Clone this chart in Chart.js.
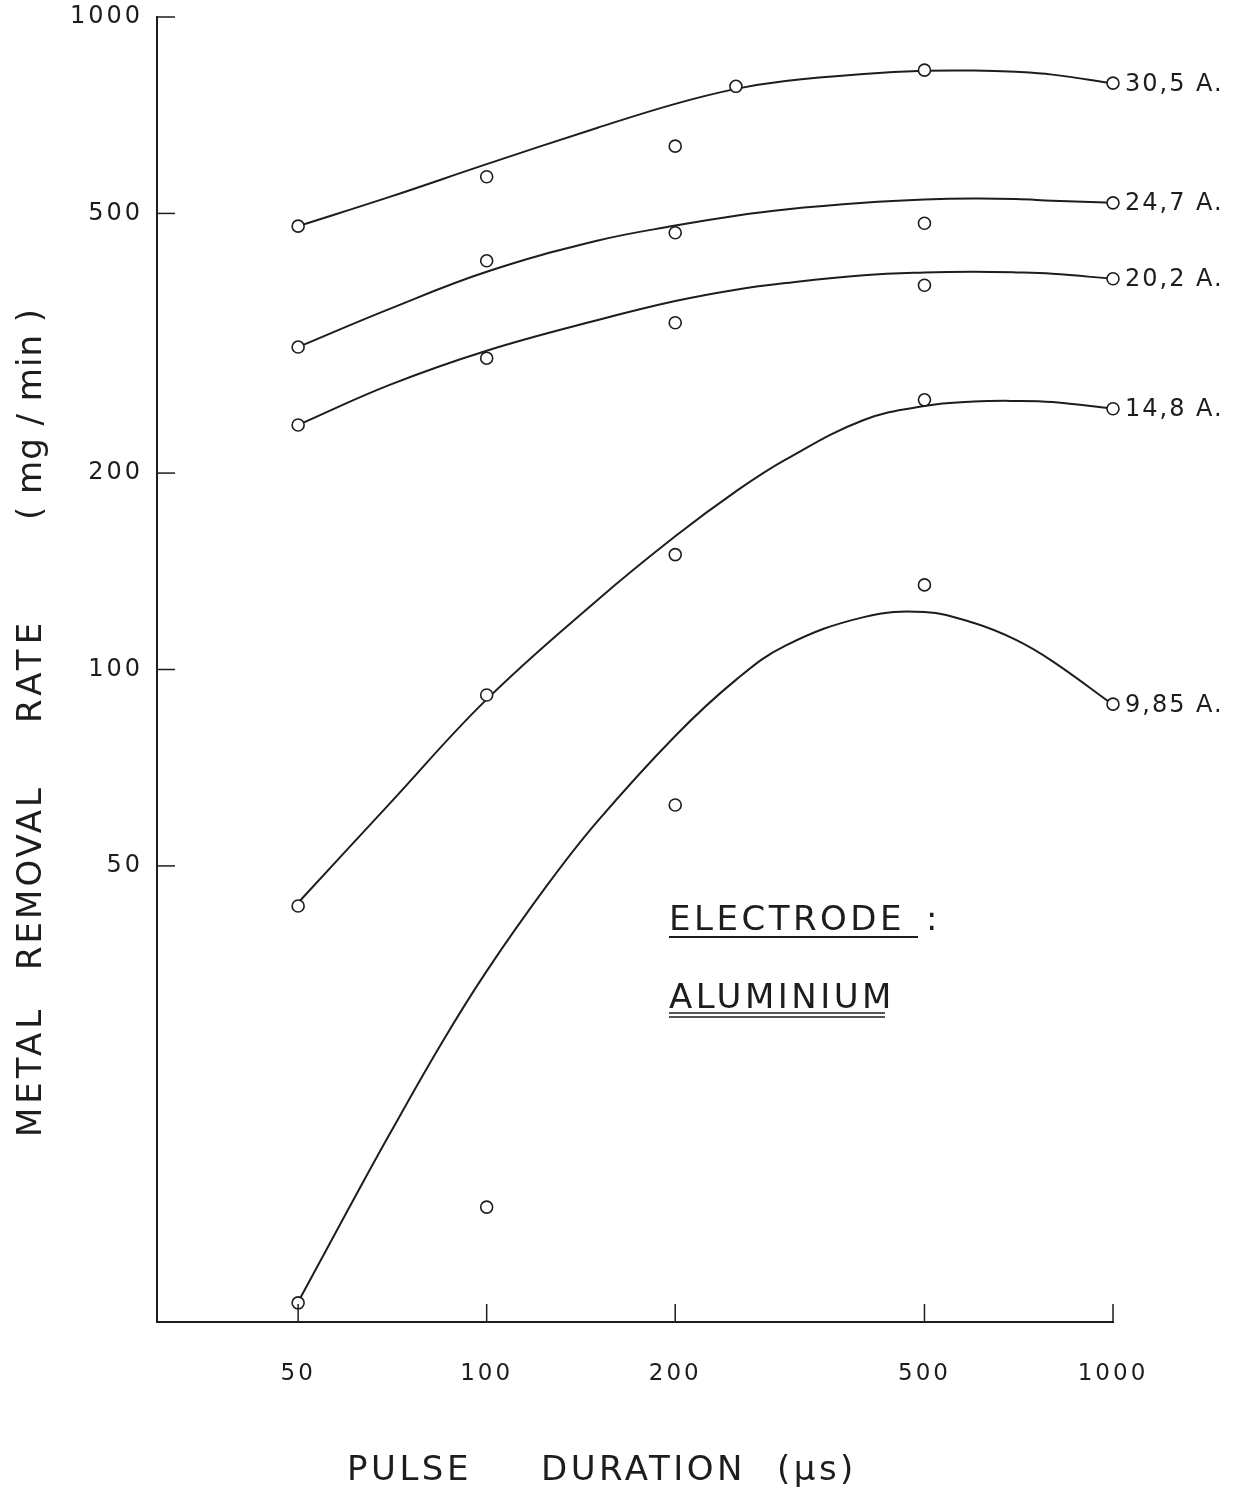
<!DOCTYPE html>
<html>
<head>
<meta charset="utf-8">
<script src="https://cdn.jsdelivr.net/npm/chart.js@4.4.1/dist/chart.umd.min.js"></script>
<style>
  body { margin: 0; background: #fff; }
  canvas { display: block; }
</style>
</head>
<body>
<canvas id="mrr" width="1239" height="1502"></canvas>
<script>
// axis ticks
const pulseTicks = [50, 100, 200, 500, 1000];
const rateTicks = [50, 100, 200, 500, 1000];

// measured points (circles)
const measX = [50, 100, 200, 500, 1000];
const meas305X = [50, 100, 200, 250, 500, 1000];
const meas305 = [478, 569, 634, 783, 829, 792];
const meas247 = [312, 423, 467, 483, 519];
const meas202 = [237, 300, 340, 388, 397];
const meas148 = [43.4, 91.4, 150, 259, 251];
const meas985 = [10.7, 15.0, 62.0, 134.8, 88.5];

// hand drawn fitted curves
const fitX = [50, 70, 100, 150, 200, 250, 300, 400, 500, 600, 700, 800, 1000];
const fit305 = [478, 530, 595, 676, 736, 776, 798, 818, 827, 828, 824, 816, 791];
const fit247 = [312, 357, 407, 454, 479, 496, 507, 519, 525, 527, 526, 523, 519];
const fit202 = [237, 273, 308, 343, 367, 382, 391, 402, 406, 407, 406, 404, 397];
const fit148 = [43.9, 62.3, 90, 127.6, 160, 187.5, 209.7, 241.2, 253.4, 257.4, 258, 257, 251];
const fit985X = [50, 60, 70, 85, 100, 125, 150, 200, 250, 300, 400, 500, 600, 700, 800, 1000];
const fit985 = [10.73, 14.83, 19.41, 26.89, 34.5, 46.75, 58.4, 79.1, 96.4, 108.8, 120.3, 122.5, 117.8, 111.0, 103.0, 88.3];

const seriesNames = ["30,5 A.", "24,7 A.", "20,2 A.", "14,8 A.", "9,85 A."];

const ink = "#1d1d1d";
const FONT = '"DejaVu Sans"';

function pairs(xs, ys) {
  return ys.map((y, i) => ({ x: xs[i], y: y }));
}

const series = [
  { mx: meas305X, my: meas305, fx: fitX, fy: fit305 },
  { mx: measX, my: meas247, fx: fitX, fy: fit247 },
  { mx: measX, my: meas202, fx: fitX, fy: fit202 },
  { mx: measX, my: meas148, fx: fitX, fy: fit148 },
  { mx: measX, my: meas985, fx: fit985X, fy: fit985 },
];

let datasets = [];
series.forEach((s, i) => {
  datasets.push({
    label: seriesNames[i],
    data: pairs(s.fx, s.fy),
    showLine: true,
    borderColor: ink,
    borderWidth: 2,
    pointRadius: 0,
    tension: 0.4,
    clip: false,
    order: 2,
  });
  datasets.push({
    label: seriesNames[i] + " pts",
    data: pairs(s.mx, s.my),
    showLine: false,
    pointRadius: 6,
    pointBackgroundColor: "#fff",
    pointBorderColor: ink,
    pointBorderWidth: 1.6,
    clip: false,
    order: 1,
  });
});

function line(ctx, x1, y1, x2, y2) {
  ctx.beginPath();
  ctx.moveTo(x1, y1);
  ctx.lineTo(x2, y2);
  ctx.stroke();
}

const paperText = {
  id: "paperText",
  beforeDraw(chart) {
    chart.ctx.letterSpacing = "3px";
  },
  afterDraw(chart) {
    const { ctx, chartArea: a, scales } = chart;
    const x = scales.x, y = scales.y;
    ctx.save();
    ctx.strokeStyle = ink;
    ctx.fillStyle = ink;
    ctx.lineWidth = 1.5;

    // inward tick marks
    pulseTicks.forEach((v) => {
      const px = x.getPixelForValue(v);
      line(ctx, px, a.bottom, px, a.bottom - 18);
    });
    rateTicks.forEach((v) => {
      const py = y.getPixelForValue(v);
      line(ctx, a.left, py, a.left + 18, py);
    });

    // current labels at the end of each curve
    ctx.font = "24px " + FONT;
    ctx.letterSpacing = "2px";
    ctx.textAlign = "left";
    ctx.textBaseline = "middle";
    chart.data.datasets.forEach((ds, i) => {
      if (i % 2 != 0) return;
      const pts = chart.getDatasetMeta(i).data;
      const last = pts[pts.length - 1];
      ctx.fillText(ds.label, last.x + 12, last.y + 1);
    });

    // axis titles
    ctx.textBaseline = "alphabetic";
    ctx.font = "34px " + FONT;
    ctx.letterSpacing = "3.5px";
    ctx.fillText("PULSE", 347, 1480);
    ctx.fillText("DURATION", 541, 1480);
    ctx.fillText("(μs)", 777, 1480);

    const yTitle = [["METAL", 1137, 4], ["REMOVAL", 970, 3], ["RATE", 723, 5], ["( mg / min )", 520, 1]];
    yTitle.forEach(([t, start, ls]) => {
      ctx.save();
      ctx.translate(41, start);
      ctx.rotate(-Math.PI / 2);
      ctx.letterSpacing = ls + "px";
      ctx.fillText(t, 0, 0);
      ctx.restore();
    });

    // electrode note
    ctx.letterSpacing = "3.5px";
    ctx.fillText("ELECTRODE", 669, 930);
    ctx.fillText(":", 926, 930);
    ctx.fillText("ALUMINIUM", 669, 1008);
    ctx.lineWidth = 2;
    line(ctx, 669, 937, 918, 937);
    ctx.lineWidth = 1.5;
    line(ctx, 669, 1013, 885, 1013);
    line(ctx, 669, 1017, 885, 1017);
    ctx.restore();
  },
};

new Chart("mrr", {
  type: "scatter",
  data: { datasets: datasets },
  options: {
    responsive: false,
    devicePixelRatio: 1,
    animation: false,
    layout: { padding: { top: 17, right: 126, left: 0, bottom: 0 } },
    plugins: { legend: { display: false }, tooltip: { enabled: false } },
    scales: {
      x: {
        type: "logarithmic",
        min: 29.76,
        max: 1000,
        bounds: "data",
        afterBuildTicks: (s) => { s.ticks = pulseTicks.map((v) => ({ value: v })); },
        afterFit: (s) => { s.height = 180; s.paddingLeft = 0; s.paddingRight = 0; },
        grid: { display: false, drawTicks: false },
        border: { display: true, color: ink, width: 2 },
        ticks: {
          autoSkip: false,
          maxRotation: 0,
          padding: 38,
          color: ink,
          font: { family: FONT, size: 23 },
          callback: (v) => String(v),
        },
      },
      y: {
        type: "logarithmic",
        min: 10,
        max: 1000,
        bounds: "data",
        afterBuildTicks: (s) => { s.ticks = rateTicks.map((v) => ({ value: v })); },
        afterFit: (s) => { s.width = 157; s.paddingTop = 0; s.paddingBottom = 0; },
        grid: { display: false, drawTicks: false },
        border: { display: true, color: ink, width: 2 },
        ticks: {
          autoSkip: false,
          padding: 14,
          color: ink,
          font: { family: FONT, size: 24 },
          callback: (v) => String(v),
        },
      },
    },
  },
  plugins: [paperText],
});
</script>
</body>
</html>
